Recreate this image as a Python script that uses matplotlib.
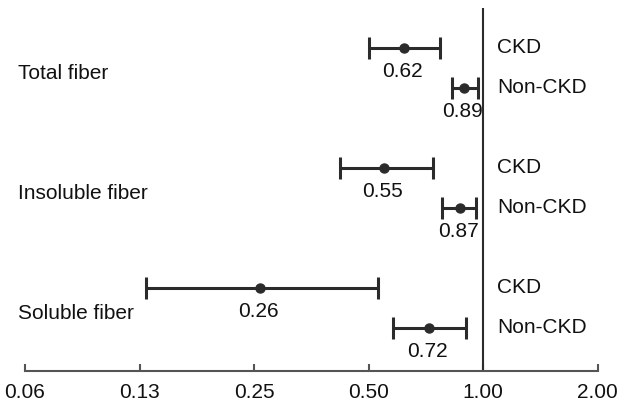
import numpy as np
import matplotlib
matplotlib.use('Agg')
import matplotlib.pyplot as plt

plt.rcParams['font.family'] = ['Liberation Sans', 'DejaVu Sans']

groups = ['Total fiber', 'Insoluble fiber', 'Soluble fiber']
subgroups = ['CKD', 'Non-CKD']
ckd_or = [0.62, 0.55, 0.26]
ckd_lo = [0.50, 0.42, 0.13]
ckd_hi = [0.77, 0.74, 0.53]
non_or = [0.89, 0.87, 0.72]
non_lo = [0.83, 0.78, 0.58]
non_hi = [0.97, 0.96, 0.90]
ticks = [0.0625, 0.125, 0.25, 0.5, 1.0, 2.0]
tick_labels = ['0.06', '0.13', '0.25', '0.50', '1.00', '2.00']

col = '#2b2b2b'
fs = 15

fig = plt.figure(figsize=(6.24, 4.05), dpi=100)
ax = fig.add_axes([25/624, 34/405, 572.5/624, 363/405])

for i in range(len(groups)):
    yc = i * 3
    yn = i * 3 + 1
    for y, est, lo, hi in [(yc, ckd_or[i], ckd_lo[i], ckd_hi[i]),
                           (yn, non_or[i], non_lo[i], non_hi[i])]:
        ax.errorbar([est], [y], xerr=[[est - lo], [hi - est]], fmt='o', color=col,
                    ms=6.5, elinewidth=2.2, capsize=8, capthick=2.2, zorder=3)
        ax.text(est * 0.99, y + 0.6, '%.2f' % est, ha='center', va='center',
                fontsize=fs, color='#111111')
    ax.text(1.09, yc, subgroups[0], ha='left', va='center', fontsize=fs, color='#111111')
    ax.text(1.09, yn, subgroups[1], ha='left', va='center', fontsize=fs, color='#111111')
    ax.text(0.06, yc + 0.65, groups[i], ha='left', va='center', fontsize=fs, color='#111111')

ax.axvline(1.0, color=col, lw=1.5, zorder=2)

ax.set_xscale('log', base=2)
ax.set_xlim(0.0625, 2.0)
ax.set_ylim(8.08, -1)
ax.set_xticks(ticks)
ax.set_xticklabels(tick_labels)
ax.minorticks_off()
ax.set_yticks([])
for s in ['top', 'right', 'left']:
    ax.spines[s].set_visible(False)
ax.spines['bottom'].set_color('#555555')
ax.spines['bottom'].set_linewidth(1.5)
ax.tick_params(axis='x', direction='in', length=5, width=1.5, color='#555555',
               labelsize=fs, pad=9, labelcolor='#111111')

fig.savefig('out.png', dpi=100)
